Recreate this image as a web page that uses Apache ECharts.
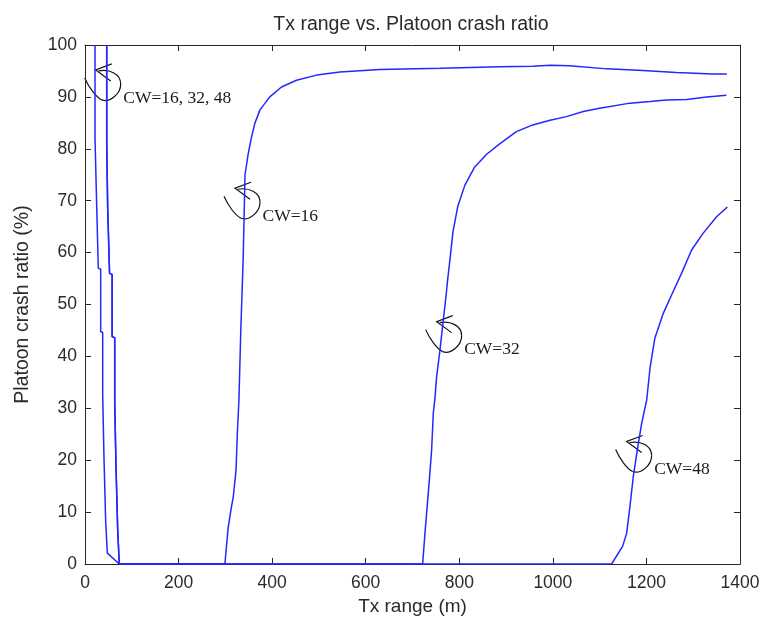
<!DOCTYPE html>
<html>
<head>
<meta charset="utf-8">
<script src="https://cdn.jsdelivr.net/npm/echarts@6/dist/echarts.min.js"></script>
<style>html,body{margin:0;padding:0;background:#fff}#c{width:763px;height:618px}</style>
</head>
<body>
<div id="c"></div>
<script>
const titleText = 'Tx range vs. Platoon crash ratio';
const xName = 'Tx range (m)';
const yName = 'Platoon crash ratio (%)';
const xTicks = [0, 200, 400, 600, 800, 1000, 1200, 1400];
const yTicks = [0, 10, 20, 30, 40, 50, 60, 70, 80, 90, 100];

// short-range drop (two visible traces)
const dropA = [[21.4,100],[21.4,82],[25,81.7],[25,69],[28.4,68.8],[28.4,57],[33.5,56.8],[33.5,44.8],[37.8,44.6],[37.8,32.6],[40.6,32.4],[40.6,20.4],[44.2,20.2],[44.2,8.2],[47.7,8],[47.7,2.1],[73.3,0]];
const dropB = [[46.4,100],[46.4,81.4],[48.5,81.2],[48.5,68.6],[52.5,68.4],[52.5,56],[58,55.8],[58,43.8],[63.5,43.6],[63.5,31.3],[66.3,31.1],[66.3,18.7],[69.9,18.5],[69.9,6.5],[73.3,6.3],[73.3,0]];

const rise16 = [[299,0],[306,7],[313,11],[317,13],[322.7,18],[326,26],[329,31.6],[333,45],[338,58.6],[342,75],[349,79.1],[356,82.3],[363,84.9],[374,87.5],[395,90],[420,91.9],[452,93.2],[495,94.2],[545,94.8],[630,95.3],[760,95.5],[887,95.8],[957,95.9],[994,96.1],[1036,96],[1115,95.4],[1193,95.1],[1264,94.7],[1342,94.4],[1372,94.4]];
const rise32 = [[721.7,0],[726.6,5.9],[733.7,13.6],[736,16.2],[740.9,22],[744.4,29],[748,32],[751.6,36.1],[758.7,41.2],[765.8,47],[771.5,51.5],[775,54.7],[780,58.6],[786.5,64],[797,69],[812,73],[833,76.5],[859,79],[887,81],[922,83.3],[957,84.6],[994,85.5],[1029,86.2],[1065,87.2],[1100,87.8],[1165,88.8],[1208,89.1],[1243,89.4],[1286,89.5],[1329,90],[1371,90.3]];
const rise48 = [[1125.5,0],[1149,3.4],[1157.7,5.9],[1164.8,11.1],[1172,16.9],[1180.5,22],[1190,27.2],[1200.6,31.6],[1208,38],[1218,43.5],[1236,48.3],[1250.6,51.2],[1275,56],[1296.6,60.5],[1321,63.7],[1350,66.9],[1373,68.8]];

const cw16 = dropA.concat(rise16);
const cw32 = dropB.concat(rise32);
const cw48 = dropB.concat(rise48);

// annotation arrow tips (data coords) and texts
const noteTexts = ['CW=16, 32, 48', 'CW=16', 'CW=32', 'CW=48'];
const noteX = [22.9, 320.6, 751.6, 1157.7];
const noteY = [95.2, 72.4, 46.7, 23.6];

const chart = echarts.init(document.getElementById('c'), null, {renderer: 'canvas'});
const axisCol = '#262626';
const lineCol = '#2626ff';
const sans = 'Liberation Sans, Arial, sans-serif';
const labelFont = {fontFamily: sans, fontSize: 17.5, color: '#2a2a2a', formatter: function (v) { return String(v); }};

function mkSeries(name, data) {
  return {name: name, type: 'line', data: data, showSymbol: false, symbol: 'none',
    lineStyle: {color: lineCol, width: 1.5}, itemStyle: {color: lineCol}, animation: false, z: 3};
}

chart.setOption({
  animation: false,
  title: {text: titleText, left: 406, top: 10, textAlign: 'center',
    textStyle: {fontFamily: sans, fontSize: 19.5, fontWeight: 'normal', color: '#2a2a2a'}},
  grid: {left: 85, right: 23, top: 45, bottom: 54, containLabel: false, outerBoundsMode: 'none'},
  xAxis: [{
    type: 'value', min: xTicks[0], max: xTicks[xTicks.length - 1], interval: 200, position: 'bottom',
    name: xName, nameLocation: 'middle', nameGap: 33,
    nameTextStyle: {fontFamily: sans, fontSize: 19, color: '#2a2a2a'},
    axisLine: {show: true, onZero: false, lineStyle: {color: axisCol, width: 1}},
    axisTick: {show: true, inside: true, length: 6, lineStyle: {color: axisCol}},
    axisLabel: Object.assign({margin: 10}, labelFont),
    splitLine: {show: false}
  }, {
    type: 'value', min: xTicks[0], max: xTicks[xTicks.length - 1], interval: 200, position: 'top',
    axisLine: {show: true, onZero: false, lineStyle: {color: axisCol, width: 1}},
    axisTick: {show: true, inside: true, length: 6, lineStyle: {color: axisCol}},
    axisLabel: {show: false}, splitLine: {show: false}
  }],
  yAxis: [{
    type: 'value', min: yTicks[0], max: yTicks[yTicks.length - 1], interval: 10, position: 'left',
    name: yName, nameLocation: 'middle', nameGap: 52,
    nameTextStyle: {fontFamily: sans, fontSize: 19.5, color: '#2a2a2a'},
    axisLine: {show: true, onZero: false, lineStyle: {color: axisCol, width: 1}},
    axisTick: {show: true, inside: true, length: 6, lineStyle: {color: axisCol}},
    axisLabel: Object.assign({margin: 8}, labelFont),
    splitLine: {show: false}
  }, {
    type: 'value', min: yTicks[0], max: yTicks[yTicks.length - 1], interval: 10, position: 'right',
    axisLine: {show: true, onZero: false, lineStyle: {color: axisCol, width: 1}},
    axisTick: {show: true, inside: true, length: 6, lineStyle: {color: axisCol}},
    axisLabel: {show: false}, splitLine: {show: false}
  }],
  series: [mkSeries('CW=16', cw16), mkSeries('CW=32', cw32), mkSeries('CW=48', cw48)]
});

// annotations: hand-drawn curl arrows + serif labels, anchored at data points
const stroke = {stroke: '#111111', fill: null, lineWidth: 1.2};
const gfx = [];
for (let i = 0; i < noteTexts.length; i++) {
  const p = chart.convertToPixel({xAxisIndex: 0, yAxisIndex: 0}, [noteX[i], noteY[i]]);
  gfx.push({
    type: 'group', x: p[0], y: p[1], z: 10,
    children: [
      {type: 'polyline', shape: {points: [[16, -6], [0, 0], [15, 11]]}, style: stroke},
      {type: 'bezierCurve', shape: {x1: -11, y1: 8, cpx1: -7, cpy1: 17, cpx2: 0, cpy2: 27, x2: 6, y2: 30}, style: stroke},
      {type: 'bezierCurve', shape: {x1: 6, y1: 30, cpx1: 14, cpy1: 33, cpx2: 25, cpy2: 24, x2: 25, y2: 14}, style: stroke},
      {type: 'bezierCurve', shape: {x1: 25, y1: 14, cpx1: 25, cpy1: 4, cpx2: 14, cpy2: -1, x2: 3, y2: 1}, style: stroke},
      {type: 'text', x: 27.5, y: 28,
        style: {text: noteTexts[i], fill: '#1a1a1a', font: '17.5px "Liberation Serif", "Times New Roman", serif',
          verticalAlign: 'middle', align: 'left'}}
    ]
  });
}
chart.setOption({graphic: gfx});
</script>
</body>
</html>
